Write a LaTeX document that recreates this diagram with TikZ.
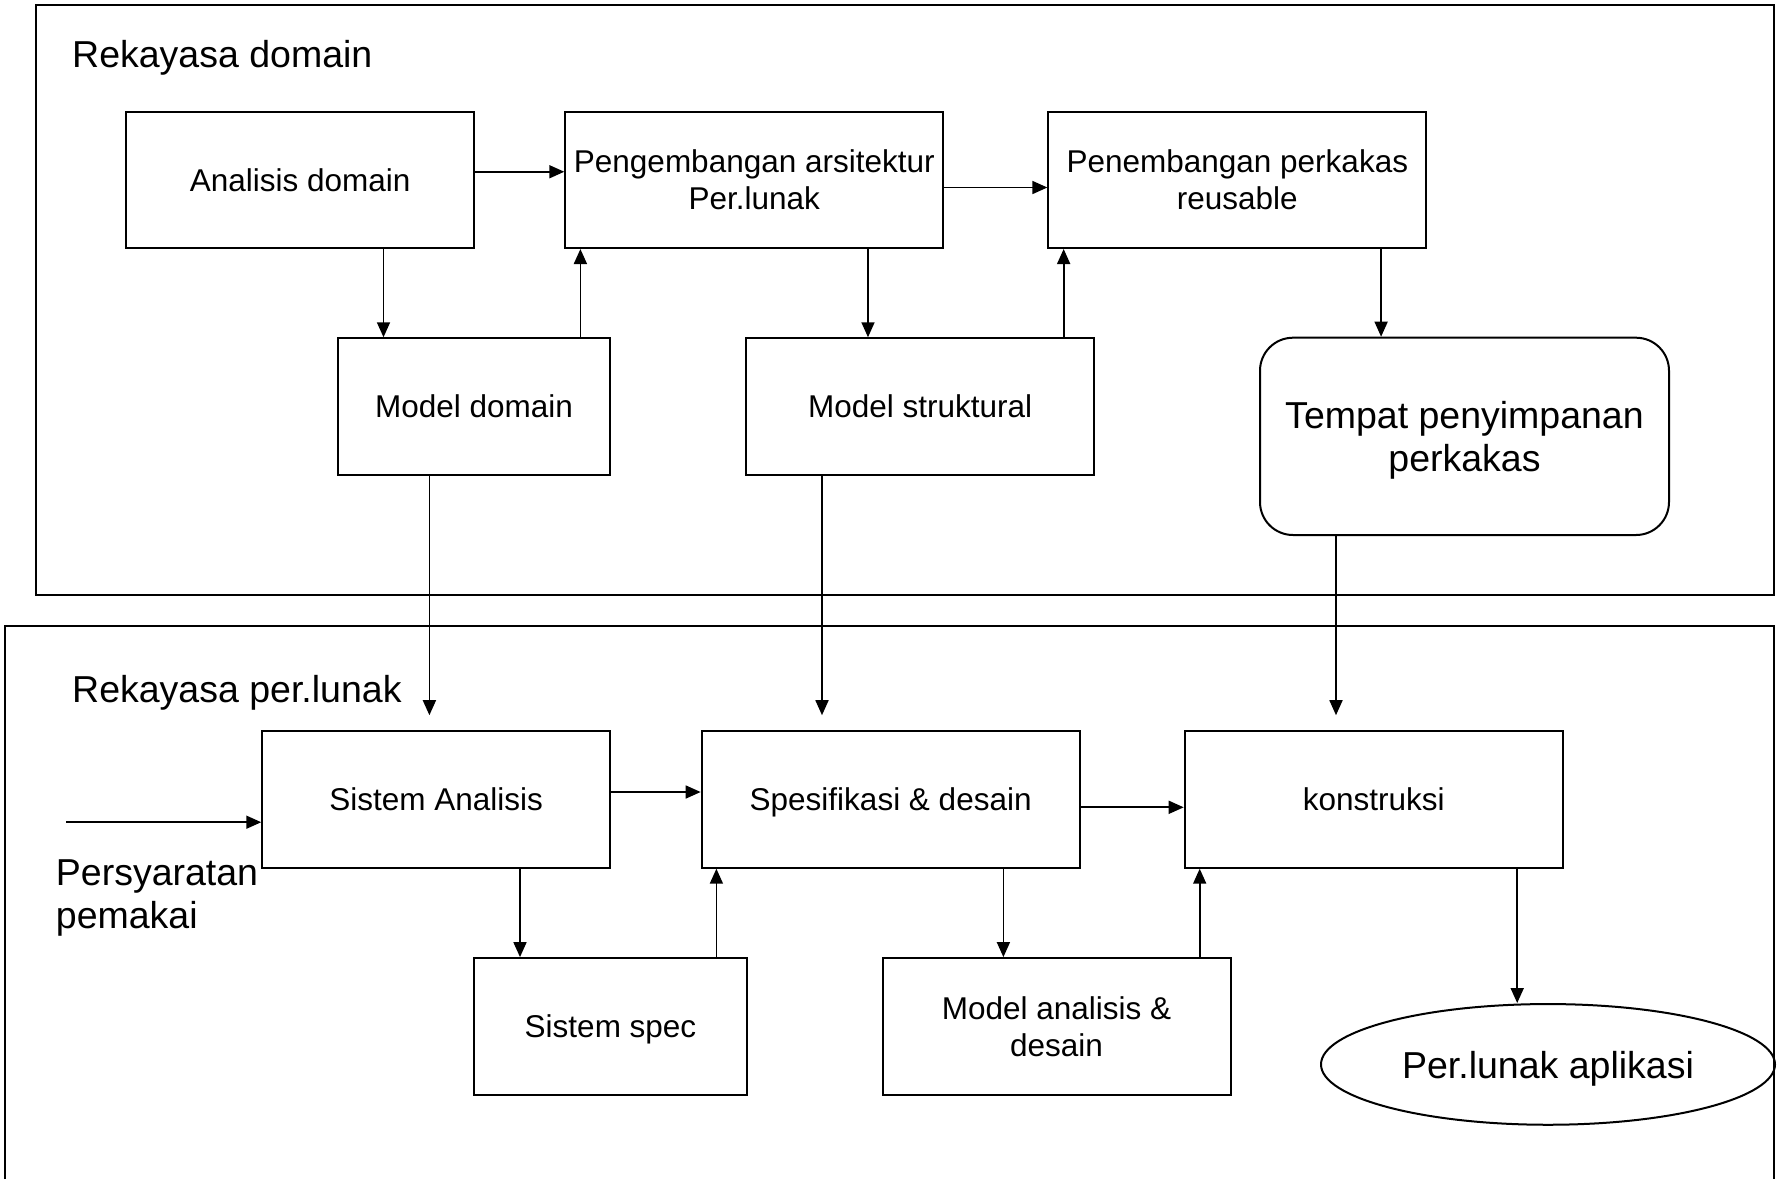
\documentclass[tikz,border=0pt]{standalone}
\usepackage{fontspec}
\setmainfont{Liberation Sans}
\usetikzlibrary{arrows.meta,shapes.geometric}

\begin{document}
\begin{tikzpicture}[x=1pt,y=-1pt,
    box/.style={draw,line width=2pt,inner sep=0pt,align=center,minimum height=136.5pt,
      text depth=0pt,font=\fontsize{31.5}{37}\selectfont},
    wide/.style={box,minimum width=378pt},
    mid/.style={box,minimum width=348pt},
    narrow/.style={box,minimum width=272.5pt},
    big/.style={font=\fontsize{37.5}{43}\selectfont},
    arr/.style={line width=1.7pt,-{Triangle[length=15pt,width=13pt]}},
    frame/.style={line width=2pt}]
  \useasboundingbox (0,0) rectangle (1781,1179);

  % Draw the two frames
  \draw[frame] (35.7,5) rectangle (1774,595);
  \draw[frame] (5,1179) -- (5,625.7) -- (1774,625.7) -- (1774,1179);
  \node[big,anchor=base west,inner sep=0pt] (domtitle) at (72,67) {Rekayasa domain};
  \node[big,anchor=base west,inner sep=0pt] (swtitle) at (72,702.7) {Rekayasa per.lunak};

  % Boxes of the domain part
  \node[mid] (ana) at (300.25,179.75) {Analisis domain};
  \node[wide] (peng) at (754.3,179.75) {Pengembangan arsitektur\\Per.lunak};
  \node[wide] (pene) at (1237.35,179.75) {Penembangan perkakas\\reusable};
  \node[narrow] (mdom) at (474.1,406.5) {Model domain};
  \node[mid] (mstr) at (920.15,406.5) {Model struktural};
  \node[draw,line width=2pt,rounded corners=33pt,inner sep=0pt,align=center,big,text depth=0pt,
    minimum width=409pt,minimum height=197.3pt] (tempat) at (1464.5,436.35)
    {Tempat penyimpanan\\perkakas};

  % Boxes of the software part
  \node[mid] (sa) at (436.25,799.45) {Sistem Analisis};
  \node[wide] (spes) at (890.65,799.45) {Spesifikasi \& desain};
  \node[wide] (kons) at (1373.7,799.45) {konstruksi};
  \node[narrow] (sspec) at (610.5,1026.35) {Sistem spec};
  \node[mid] (mad) at (1056.55,1026.35) {Model analisis \&\\desain};
  \node[draw,ellipse,line width=2pt,inner sep=0pt,big,text depth=0pt,
    minimum width=454pt,minimum height=120.7pt] (app) at (1548,1064.4) {Per.lunak aplikasi};

  % Input
  \coordinate (req) at (66,822.2);
  \draw[arr] (req) -- (req -| sa.west);
  \node[big,anchor=base west,align=left,inner sep=0pt] (persy) at (55.7,928.5) {Persyaratan\\pemakai};

  % Arrows in the domain part
  \draw[arr] ([yshift=8pt]ana.east) -- ([yshift=8pt]peng.west);
  \draw[arr] ([yshift=-7.75pt]peng.east) -- ([yshift=-7.75pt]pene.west);
  \draw[arr] ([xshift=83.25pt]ana.south) -- ([xshift=83.25pt]ana.south |- mdom.north);
  \draw[arr] ([xshift=106.3pt]mdom.north) -- ([xshift=106.3pt]mdom.north |- peng.south);
  \draw[arr] ([xshift=113.7pt]peng.south) -- ([xshift=113.7pt]peng.south |- mstr.north);
  \draw[arr] ([xshift=143.5pt]mstr.north) -- ([xshift=143.5pt]mstr.north |- pene.south);
  \draw[arr] ([xshift=143.75pt]pene.south) -- ([xshift=143.75pt]pene.south |- tempat.north);

  % Arrows from domain to software part
  \draw[arr,shorten >=15pt] ([xshift=-44.7pt]mdom.south) -- ([xshift=-44.7pt]mdom.south |- sa.north);
  \draw[arr,shorten >=15pt] ([xshift=-98.15pt]mstr.south) -- ([xshift=-98.15pt]mstr.south |- spes.north);
  \draw[arr,shorten >=15pt] ([xshift=-128.5pt]tempat.south) -- ([xshift=-128.5pt]tempat.south |- kons.north);

  % Arrows in the software part
  \draw[arr] ([yshift=7.45pt]sa.east) -- ([yshift=7.45pt]spes.west);
  \draw[arr] ([yshift=-7.85pt]spes.east) -- ([yshift=-7.85pt]kons.west);
  \draw[arr] ([xshift=83.75pt]sa.south) -- ([xshift=83.75pt]sa.south |- sspec.north);
  \draw[arr] ([xshift=105.9pt]sspec.north) -- ([xshift=105.9pt]sspec.north |- spes.south);
  \draw[arr] ([xshift=112.75pt]spes.south) -- ([xshift=112.75pt]spes.south |- mad.north);
  \draw[arr] ([xshift=143.15pt]mad.north) -- ([xshift=143.15pt]mad.north |- kons.south);
  \draw[arr] ([xshift=143.5pt]kons.south) -- ([xshift=143.5pt]kons.south |- app.north);
\end{tikzpicture}
\end{document}
